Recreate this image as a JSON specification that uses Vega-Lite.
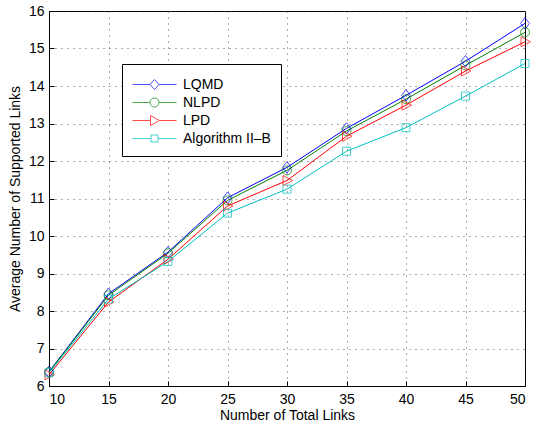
{
  "$schema": "https://vega.github.io/schema/vega-lite/v6.json",
  "autosize": "none",
  "padding": {"left": 49, "top": 11, "right": 8, "bottom": 36},
  "width": 476,
  "height": 375,
  "background": "white",
  "config": {
    "font": "Liberation Sans",
    "view": {"stroke": "black", "strokeWidth": 1},
    "axis": {
      "labelFont": "Liberation Sans",
      "titleFont": "Liberation Sans",
      "labelFontSize": 14,
      "titleFontSize": 14,
      "titleFontWeight": "normal",
      "labelColor": "black",
      "titleColor": "black",
      "domainColor": "black",
      "tickColor": "black",
      "tickSize": -5,
      "gridColor": "#333333",
      "gridDash": [1, 5],
      "gridWidth": 1,
      "gridOpacity": 0.8
    },
    "legend": {
      "labelFont": "Liberation Sans",
      "labelFontSize": 14,
      "labelColor": "black"
    }
  },
  "data": {
    "values": [
      {"series": "LQMD", "links": 10, "supported": 6.38},
      {"series": "LQMD", "links": 15, "supported": 8.46},
      {"series": "LQMD", "links": 20, "supported": 9.57},
      {"series": "LQMD", "links": 25, "supported": 11.02},
      {"series": "LQMD", "links": 30, "supported": 11.83},
      {"series": "LQMD", "links": 35, "supported": 12.87},
      {"series": "LQMD", "links": 40, "supported": 13.75},
      {"series": "LQMD", "links": 45, "supported": 14.66},
      {"series": "LQMD", "links": 50, "supported": 15.67},
      {"series": "NLPD", "links": 10, "supported": 6.37},
      {"series": "NLPD", "links": 15, "supported": 8.42},
      {"series": "NLPD", "links": 20, "supported": 9.54},
      {"series": "NLPD", "links": 25, "supported": 10.95},
      {"series": "NLPD", "links": 30, "supported": 11.75},
      {"series": "NLPD", "links": 35, "supported": 12.8},
      {"series": "NLPD", "links": 40, "supported": 13.65},
      {"series": "NLPD", "links": 45, "supported": 14.55},
      {"series": "NLPD", "links": 50, "supported": 15.43},
      {"series": "LPD", "links": 10, "supported": 6.3},
      {"series": "LPD", "links": 15, "supported": 8.24},
      {"series": "LPD", "links": 20, "supported": 9.38},
      {"series": "LPD", "links": 25, "supported": 10.8},
      {"series": "LPD", "links": 30, "supported": 11.48},
      {"series": "LPD", "links": 35, "supported": 12.66},
      {"series": "LPD", "links": 40, "supported": 13.49},
      {"series": "LPD", "links": 45, "supported": 14.4},
      {"series": "LPD", "links": 50, "supported": 15.18},
      {"series": "Algorithm II–B", "links": 10, "supported": 6.35},
      {"series": "Algorithm II–B", "links": 15, "supported": 8.32},
      {"series": "Algorithm II–B", "links": 20, "supported": 9.32},
      {"series": "Algorithm II–B", "links": 25, "supported": 10.61},
      {"series": "Algorithm II–B", "links": 30, "supported": 11.25},
      {"series": "Algorithm II–B", "links": 35, "supported": 12.26},
      {"series": "Algorithm II–B", "links": 40, "supported": 12.89},
      {"series": "Algorithm II–B", "links": 45, "supported": 13.73},
      {"series": "Algorithm II–B", "links": 50, "supported": 14.6}
    ]
  },
  "encoding": {
    "x": {
      "field": "links",
      "type": "quantitative",
      "scale": {"domain": [10, 50], "nice": false, "zero": false},
      "axis": {"values": [10, 15, 20, 25, 30, 35, 40, 45, 50], "title": "Number of Total Links", "labelPadding": 11, "titlePadding": 2}
    },
    "y": {
      "field": "supported",
      "type": "quantitative",
      "scale": {"domain": [6, 16], "nice": false, "zero": false},
      "axis": {"values": [6, 7, 8, 9, 10, 11, 12, 13, 14, 15, 16], "title": "Average Number of Supported Links", "labelPadding": 10, "titlePadding": 6}
    },
    "color": {
      "field": "series",
      "type": "nominal",
      "scale": {"domain": ["LQMD", "NLPD", "LPD", "Algorithm II–B"], "range": ["#0000FF", "#008000", "#FF0000", "#00BFBF"]},
      "legend": {
        "title": null,
        "orient": "none",
        "legendX": 73,
        "legendY": 53,
        "padding": 10,
        "strokeColor": "black",
        "fillColor": "white",
        "symbolSize": 400,
        "symbolStrokeWidth": 1,
        "rowPadding": -1,
        "labelOffset": 30,
        "symbolOffset": 0
      }
    }
  },
  "layer": [
    {
      "mark": {"type": "line", "strokeWidth": 1},
      "encoding": {}
    },
    {
      "transform": [{"filter": "datum.series === 'LQMD'"}],
      "mark": {"type": "point", "filled": false, "strokeWidth": 1, "size": 100, "shape": "M0,-1.15L0.9,0L0,1.15L-0.9,0Z"},
      "encoding": {}
    },
    {
      "transform": [{"filter": "datum.series === 'NLPD'"}],
      "mark": {"type": "point", "filled": false, "strokeWidth": 1, "size": 100, "shape": "M0.9,0A0.9,0.9,0,1,1,-0.9,0A0.9,0.9,0,1,1,0.9,0Z"},
      "encoding": {}
    },
    {
      "transform": [{"filter": "datum.series === 'LPD'"}],
      "mark": {"type": "point", "filled": false, "strokeWidth": 1, "size": 100, "shape": "M-0.8,-1L1.1,0L-0.8,1Z"},
      "encoding": {}
    },
    {
      "transform": [{"filter": "datum.series === 'Algorithm II–B'"}],
      "mark": {"type": "point", "filled": false, "strokeWidth": 1, "size": 100, "shape": "M-0.8,-0.8H0.8V0.8H-0.8Z"},
      "encoding": {}
    },
    {
      "transform": [{"filter": "false"}],
      "mark": {"type": "point", "filled": false, "strokeWidth": 1},
      "encoding": {
        "shape": {
          "field": "series",
          "type": "nominal",
          "scale": {
            "domain": ["LQMD", "NLPD", "LPD", "Algorithm II–B"],
            "range": [
              "M-1,0H0.75M0.75,0L1.2,-0.5L1.65,0L1.2,0.5ZM1.65,0H3.4",
              "M-1,0H0.75M1.65,0A0.45,0.45,0,1,1,0.75,0A0.45,0.45,0,1,1,1.65,0ZM1.65,0H3.4",
              "M-1,0H0.8M0.8,-0.5L1.7,0L0.8,0.5ZM1.7,0H3.4",
              "M-1,0H0.85M0.85,-0.35H1.55V0.35H0.85ZM1.55,0H3.4"
            ]
          },
          "legend": {
            "title": null,
            "orient": "none",
            "legendX": 73,
            "legendY": 53,
            "padding": 10,
            "strokeColor": "black",
            "fillColor": "white",
            "symbolSize": 400,
            "symbolStrokeWidth": 1,
            "rowPadding": -1,
            "labelOffset": 30,
            "symbolOffset": 0
          }
        }
      }
    }
  ]
}
